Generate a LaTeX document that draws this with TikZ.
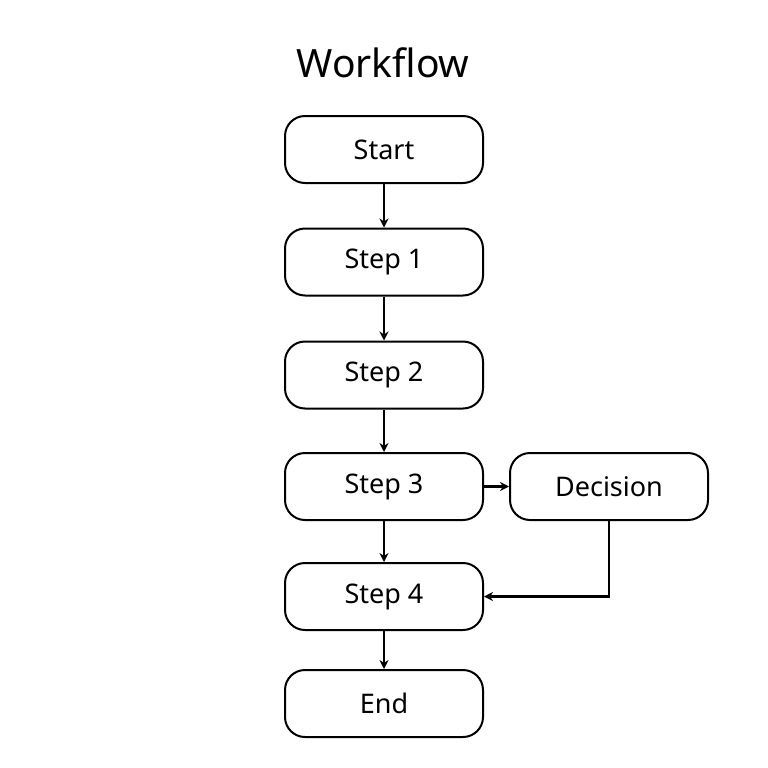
\documentclass[tikz,border=0pt]{standalone}
\usepackage{fontspec}
\setmainfont{Noto Sans}
\usetikzlibrary{arrows.meta}
\begin{document}
\begin{tikzpicture}[x=1pt,y=-1pt,
  box/.style={draw,line width=2pt,rounded corners=20pt,minimum width=198pt,minimum height=67pt,font=\fontsize{27}{30}\selectfont,inner sep=0pt},
  arr/.style={line width=2.2pt,-{Stealth[length=9pt,width=9pt]}}]
\useasboundingbox (0,0) rectangle (768,768);
\node[font=\fontsize{39}{44}\selectfont] (title) at (383,63) {Workflow};
\node[box] (start) at (384,149.5) {Start};
\node[box] (s1) at (384,262) {Step 1};
\node[box] (s2) at (384,375) {Step 2};
\node[box] (s3) at (384,486.5) {Step 3};
\node[box] (dec) at (609,486.5) {Decision};
\node[box] (s4) at (384,596.5) {Step 4};
\node[box] (end) at (384,703.5) {End};
\draw[arr] (start) -- (s1);
\draw[arr] (s1) -- (s2);
\draw[arr] (s2) -- (s3);
\draw[arr] (s3) -- (s4);
\draw[arr] (s4) -- (end);
\draw[arr] (s3) -- (dec);
\draw[arr] (dec.south) |- (s4.east);
\end{tikzpicture}
\end{document}
